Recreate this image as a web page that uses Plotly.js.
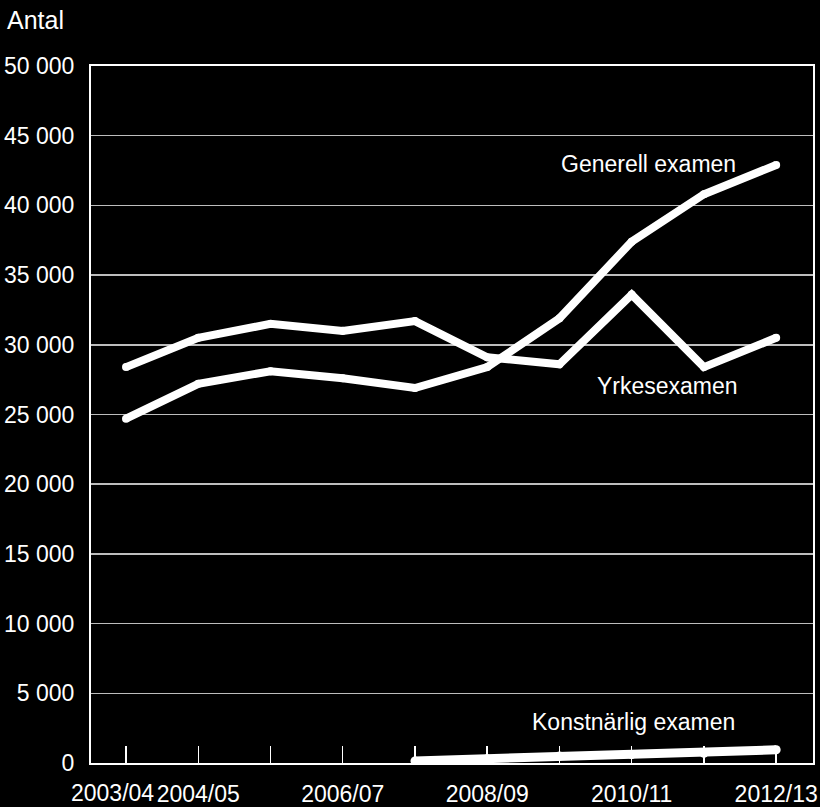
<!DOCTYPE html>
<html>
<head>
<meta charset="utf-8">
<script src="https://cdn.plot.ly/plotly-3.0.1.min.js"></script>
<style>html,body{margin:0;padding:0;background:#000;}#chart{width:820px;height:807px;}</style>
</head>
<body>
<div id="chart"></div>
<script>
const categories = ["2003/04","2004/05","2005/06","2006/07","2007/08","2008/09","2009/10","2010/11","2011/12","2012/13"];
const tickLabels = ["","2004/05","","2006/07","","2008/09","","2010/11","","2012/13"];
const firstTickLabel = "2003/04";
const yrkesexamen = [28400, 30500, 31500, 31000, 31700, 29100, 28600, 33600, 28400, 30500];
const generellExamen = [24700, 27200, 28100, 27600, 26900, 28400, 31900, 37400, 40800, 42900];
const konstnarligExamen = [null, null, null, null, 150, 300, 500, 600, 700, 950];
const yTicks = [0,5000,10000,15000,20000,25000,30000,35000,40000,45000,50000];
const yTickText = ["0","5 000","10 000","15 000","20 000","25 000","30 000","35 000","40 000","45 000","50 000"];

const xIdx = categories.map((c,i)=>i);
function trace(name, y, w){
  return {x: xIdx, y: y, name: name, type:'scatter', mode:'lines+markers',
    line:{color:'#ffffff', width:w}, marker:{color:'#ffffff', size:w},
    connectgaps:false, hoverinfo:'skip', showlegend:false};
}
const data = [
  trace('Yrkesexamen', yrkesexamen, 8),
  trace('Generell examen', generellExamen, 8),
  trace('Konstnärlig examen', konstnarligExamen, 9)
];
const font = {family:'"Liberation Sans", Arial, sans-serif', color:'#ffffff'};
const layout = {
  width:820, height:807,
  paper_bgcolor:'#000000', plot_bgcolor:'#000000',
  margin:{l:91, r:7, t:66, b:44},
  font: Object.assign({size:22}, font),
  xaxis:{range:[-0.485,9.51], tickvals:xIdx, ticktext:tickLabels, tickangle:0, ticks:'inside', ticklen:17,
    tickwidth:1.5, tickcolor:'#ffffff', showgrid:false, zeroline:false,
    showline:true, linecolor:'#ffffff', linewidth:2, mirror:true,
    tickfont:Object.assign({size:23}, font), ticklabelstandoff:9, fixedrange:true},
  yaxis:{range:[0,50000], tickvals:yTicks, ticktext:yTickText, ticks:'',
    showgrid:true, gridcolor:'#bdbdbd', gridwidth:1.5, zeroline:false,
    showline:true, linecolor:'#ffffff', linewidth:2, mirror:true,
    tickfont:Object.assign({size:23}, font), ticklabelstandoff:10, fixedrange:true},
  annotations:[
    {text:'Antal', xref:'paper', yref:'paper', x:-91/722, y:1+(66-20)/697, xanchor:'left', yanchor:'middle', showarrow:false, font:Object.assign({size:25}, font), xshift:5},
    {text:firstTickLabel, xref:'x', yref:'paper', x:0, y:0, xanchor:'center', yanchor:'top', showarrow:false, font:Object.assign({size:23}, font), xshift:-14, yshift:-15},
    {text:'Generell examen', xref:'x', yref:'y', x:7.23, y:43000, xanchor:'center', yanchor:'middle', showarrow:false, font:Object.assign({size:23}, font)},
    {text:'Yrkesexamen', xref:'x', yref:'y', x:7.5, y:27020, xanchor:'center', yanchor:'middle', showarrow:false, font:Object.assign({size:23}, font)},
    {text:'Konstnärlig examen', xref:'x', yref:'y', x:7.02, y:2940, xanchor:'center', yanchor:'middle', showarrow:false, font:Object.assign({size:23}, font)}
  ]
};
Plotly.newPlot('chart', data, layout, {staticPlot:true, displayModeBar:false});
</script>
</body>
</html>
